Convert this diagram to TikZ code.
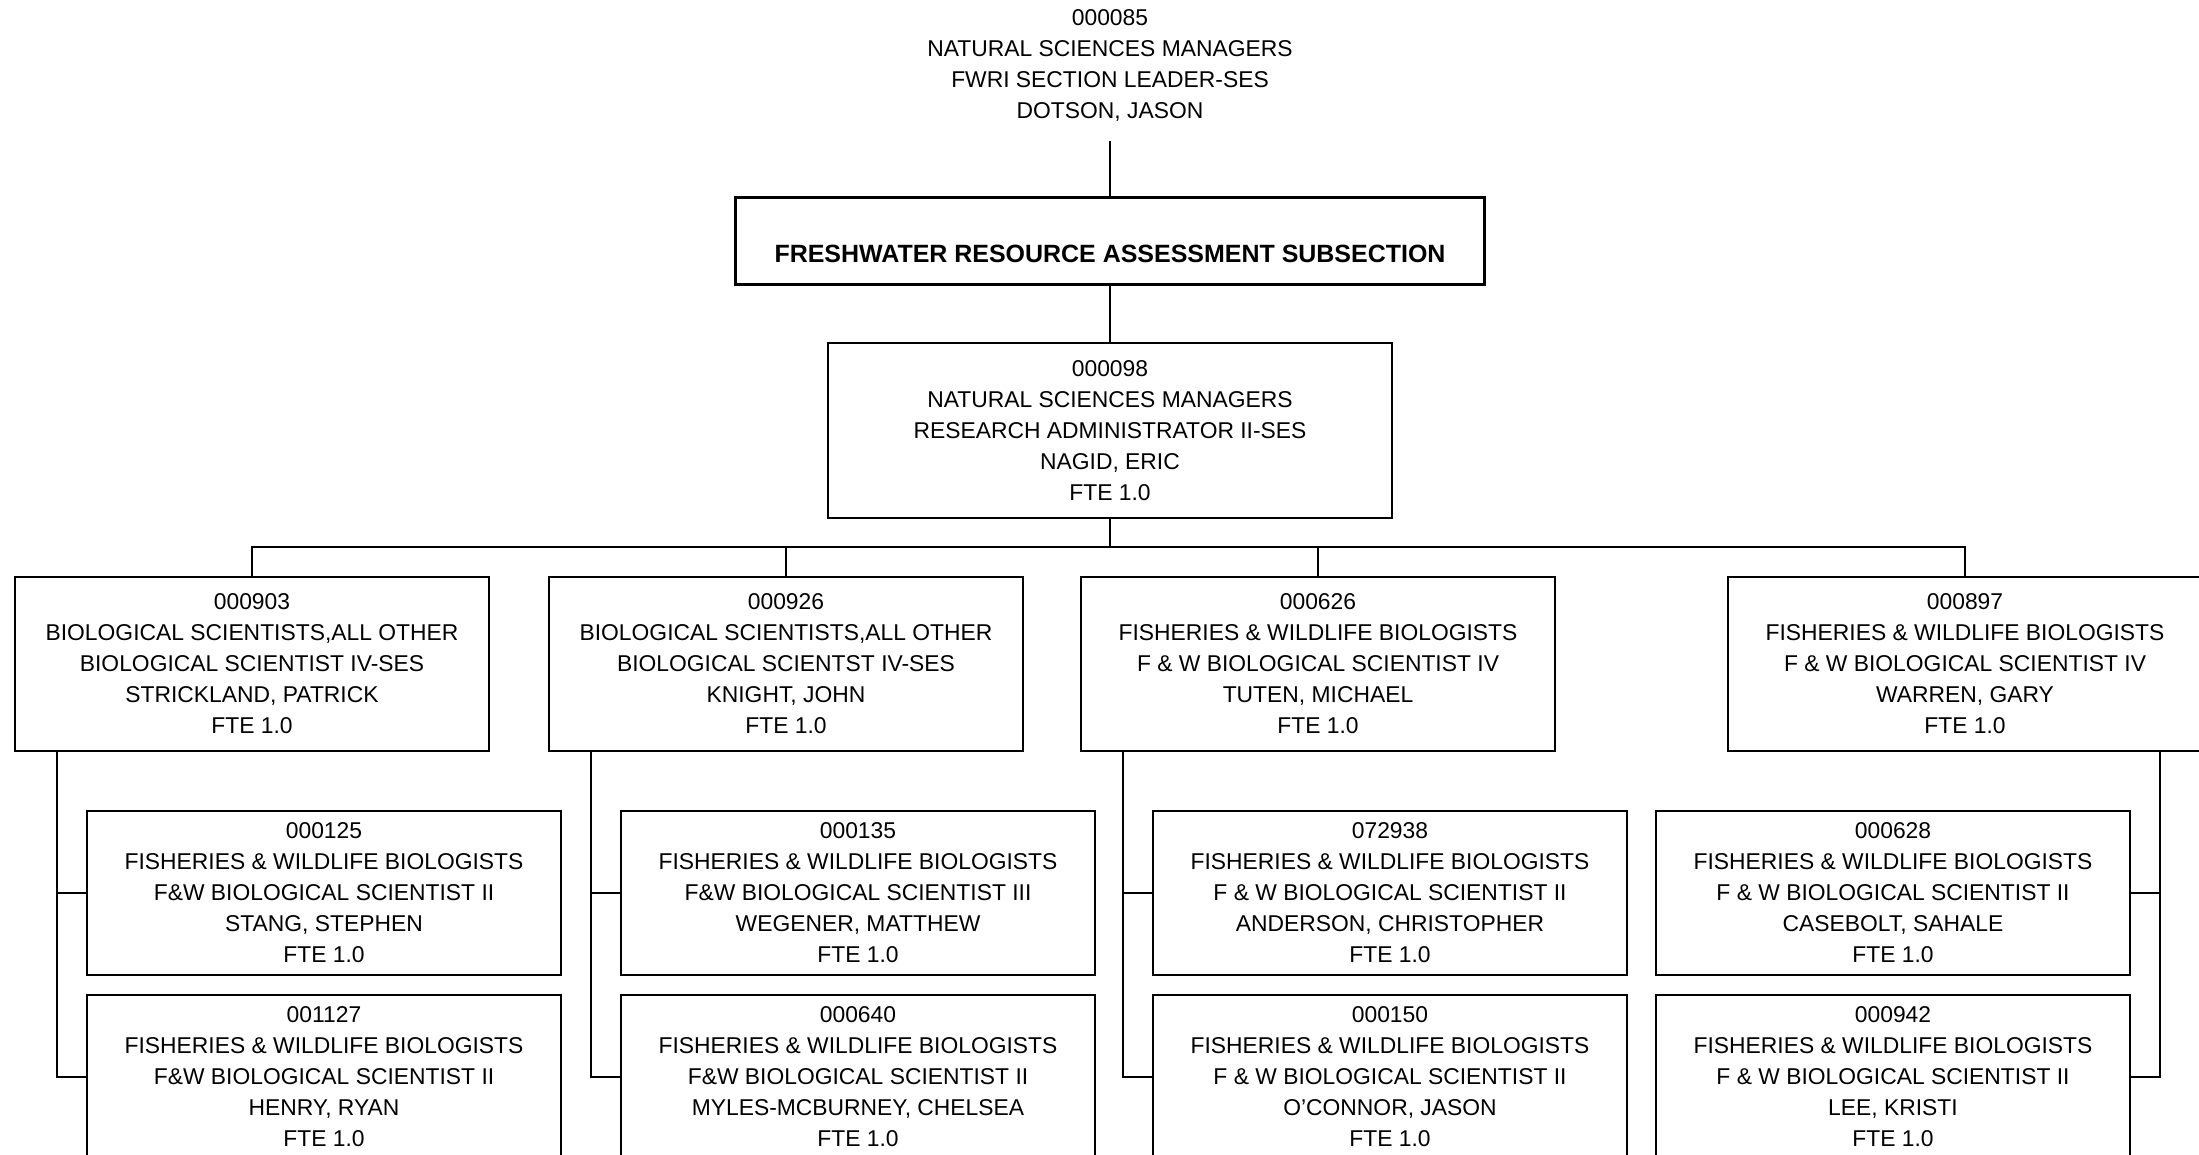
\documentclass[tikz,border=0pt]{standalone}
\usepackage{fontspec}
\setmainfont{Liberation Sans}
\usepackage{tikz}

\begin{document}
\begin{tikzpicture}[x=0.01cm,y=-0.01cm,line width=0.6pt,
every node/.style={font=\fontsize{6.5}{8.8}\selectfont},
jobbox/.style={draw,line width=0.7pt,align=center,inner sep=0pt,minimum width=4.74cm,minimum height=1.74cm},
staffbox/.style={jobbox,minimum height=1.64cm}]
\useasboundingbox (0,0) rectangle (2199,1155);

\node (Root) [align=center,inner xsep=0pt,inner ysep=0.18cm] at (1110,65.6)
  {000085\\NATURAL SCIENCES MANAGERS\\FWRI SECTION LEADER-SES\\DOTSON, JASON};
\node (sub) [draw,line width=0.7pt,inner sep=0pt,minimum width=7.49cm,
  text height=0.645cm,text depth=0.225cm,font=\bfseries\fontsize{7.1}{8.8}\selectfont] at (1110,241)
  {FRESHWATER RESOURCE ASSESSMENT SUBSECTION};
\node (mgr) [jobbox,minimum width=5.64cm,minimum height=1.75cm] at (1110,430.5)
  {000098\\NATURAL SCIENCES MANAGERS\\RESEARCH ADMINISTRATOR II-SES\\NAGID, ERIC\\FTE 1.0};

% section heads
\node (p0) [jobbox] at (252,664)
  {000903\\BIOLOGICAL SCIENTISTS,ALL OTHER\\BIOLOGICAL SCIENTIST IV-SES\\STRICKLAND, PATRICK\\FTE 1.0};
\node (p1) [jobbox] at (786,664)
  {000926\\BIOLOGICAL SCIENTISTS,ALL OTHER\\BIOLOGICAL SCIENTST IV-SES\\KNIGHT, JOHN\\FTE 1.0};
\node (p2) [jobbox] at (1318,664)
  {000626\\FISHERIES \& WILDLIFE BIOLOGISTS\\F \& W BIOLOGICAL SCIENTIST IV\\TUTEN, MICHAEL\\FTE 1.0};
\node (p3) [jobbox] at (1965,664)
  {000897\\FISHERIES \& WILDLIFE BIOLOGISTS\\F \& W BIOLOGICAL SCIENTIST IV\\WARREN, GARY\\FTE 1.0};

% staff
\node (p00) [staffbox] at (324,893)
  {000125\\FISHERIES \& WILDLIFE BIOLOGISTS\\F\&W BIOLOGICAL SCIENTIST II\\STANG, STEPHEN\\FTE 1.0};
\node (p01) [staffbox] at (324,1077)
  {001127\\FISHERIES \& WILDLIFE BIOLOGISTS\\F\&W BIOLOGICAL SCIENTIST II\\HENRY, RYAN\\FTE 1.0};
\node (p10) [staffbox] at (858,893)
  {000135\\FISHERIES \& WILDLIFE BIOLOGISTS\\F\&W BIOLOGICAL SCIENTIST III\\WEGENER, MATTHEW\\FTE 1.0};
\node (p11) [staffbox] at (858,1077)
  {000640\\FISHERIES \& WILDLIFE BIOLOGISTS\\F\&W BIOLOGICAL SCIENTIST II\\MYLES-MCBURNEY, CHELSEA\\FTE 1.0};
\node (p20) [staffbox] at (1390,893)
  {072938\\FISHERIES \& WILDLIFE BIOLOGISTS\\F \& W BIOLOGICAL SCIENTIST II\\ANDERSON, CHRISTOPHER\\FTE 1.0};
\node (p21) [staffbox] at (1390,1077)
  {000150\\FISHERIES \& WILDLIFE BIOLOGISTS\\F \& W BIOLOGICAL SCIENTIST II\\O'CONNOR, JASON\\FTE 1.0};
\node (p30) [staffbox] at (1893,893)
  {000628\\FISHERIES \& WILDLIFE BIOLOGISTS\\F \& W BIOLOGICAL SCIENTIST II\\CASEBOLT, SAHALE\\FTE 1.0};
\node (p31) [staffbox] at (1893,1077)
  {000942\\FISHERIES \& WILDLIFE BIOLOGISTS\\F \& W BIOLOGICAL SCIENTIST II\\LEE, KRISTI\\FTE 1.0};

\draw (Root.south) -- (sub.north);
\draw (sub.south) -- (mgr.north);
\coordinate (bus) at (1110,547);
\draw (mgr.south) -- (bus);
\draw (bus) -| (p0.north);
\draw (bus) -| (p1.north);
\draw (bus) -| (p2.north);
\draw (bus) -| (p3.north);

\draw ([xshift=0.43cm]p0.south west) |- (p00.west);
\draw ([xshift=0.43cm]p0.south west) |- (p01.west);
\draw ([xshift=0.43cm]p1.south west) |- (p10.west);
\draw ([xshift=0.43cm]p1.south west) |- (p11.west);
\draw ([xshift=0.43cm]p2.south west) |- (p20.west);
\draw ([xshift=0.43cm]p2.south west) |- (p21.west);
\draw ([xshift=-0.43cm]p3.south east) |- (p30.east);
\draw ([xshift=-0.43cm]p3.south east) |- (p31.east);
\end{tikzpicture}
\end{document}
